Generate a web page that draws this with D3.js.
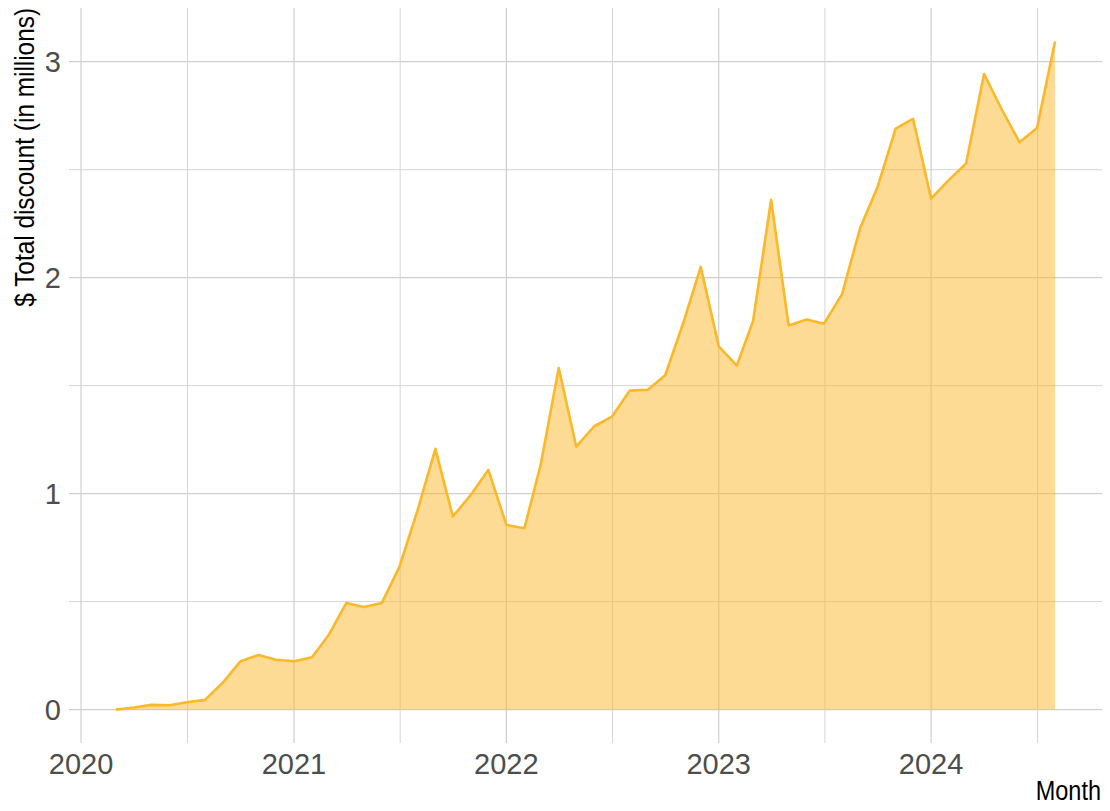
<!DOCTYPE html>
<html>
<head>
<meta charset="utf-8">
<script src="https://cdn.jsdelivr.net/npm/d3@7"></script>
<style>
  body { margin: 0; background: #fff; }
  .tick-label { font-family: "Liberation Sans", Arial, sans-serif; font-size: 29px; fill: #4d4d4d; }
  .axis-title { font-family: "Liberation Sans Narrow", "Liberation Sans", sans-serif; font-size: 28px; fill: #000; }
</style>
</head>
<body>
<div id="chart"></div>
<script>
// monthly totals, Mar 2020 .. Aug 2024
const months = [
  "2020-03","2020-04","2020-05","2020-06","2020-07","2020-08","2020-09","2020-10","2020-11","2020-12",
  "2021-01","2021-02","2021-03","2021-04","2021-05","2021-06","2021-07","2021-08","2021-09","2021-10","2021-11","2021-12",
  "2022-01","2022-02","2022-03","2022-04","2022-05","2022-06","2022-07","2022-08","2022-09","2022-10","2022-11","2022-12",
  "2023-01","2023-02","2023-03","2023-04","2023-05","2023-06","2023-07","2023-08","2023-09","2023-10","2023-11","2023-12",
  "2024-01","2024-02","2024-03","2024-04","2024-05","2024-06","2024-07","2024-08"
];
const discount = [
  0.00, 0.01, 0.022, 0.02, 0.034, 0.045, 0.126, 0.224, 0.253, 0.231,
  0.224, 0.242, 0.343, 0.494, 0.475, 0.494, 0.66, 0.92, 1.207, 0.894, 0.995, 1.11,
  0.855, 0.84, 1.134, 1.582, 1.218, 1.312, 1.355, 1.477, 1.481, 1.548, 1.79, 2.05,
  1.682, 1.593, 1.80, 2.361, 1.779, 1.806, 1.787, 1.924, 2.23, 2.42, 2.69, 2.735,
  2.366, 2.454, 2.528, 2.943, 2.781, 2.627, 2.693, 3.094
];
const yTicks = [0, 1, 2, 3];
const yMinor = [0.5, 1.5, 2.5];
const xTickYears = [2020, 2021, 2022, 2023, 2024];

const width = 1110, height = 811;
const panel = {left: 69, right: 1102, top: 8, bottom: 743};

const parse = d3.timeParse("%Y-%m");
const data = months.map((m, i) => ({date: parse(m), value: discount[i]}));

// ggplot-style 5% expansion
const xExt = d3.extent(data, d => +d.date);
const xPad = (xExt[1] - xExt[0]) * 0.05;
const x = d3.scaleTime()
            .domain([new Date(xExt[0] - xPad), new Date(xExt[1] + xPad)])
            .range([panel.left, panel.right]);

const yExt = d3.extent(data, d => d.value);
const yPad = (yExt[1] - yExt[0]) * 0.05;
const y = d3.scaleLinear()
            .domain([yExt[0] - yPad, yExt[1] + yPad])
            .range([panel.bottom, panel.top]);

const svg = d3.select("#chart")
              .append("svg")
              .attr("width", width)
              .attr("height", height);

const majorX = xTickYears.map(yr => new Date(yr, 0, 1));
const minorX = [];
for (let i = 0; i < majorX.length; i++) {
  const next = new Date(xTickYears[i] + 1, 0, 1);
  minorX.push(new Date((+majorX[i] + +next) / 2));
}

const grid = svg.append("g");
// horizontal grid
grid.selectAll("line.hmin")
    .data(yMinor).enter().append("line")
    .attr("x1", panel.left).attr("x2", panel.right)
    .attr("y1", d => y(d)).attr("y2", d => y(d))
    .attr("stroke", "#d6d6d6").attr("stroke-width", 1);
grid.selectAll("line.hmaj")
    .data(yTicks).enter().append("line")
    .attr("x1", panel.left).attr("x2", panel.right)
    .attr("y1", d => y(d)).attr("y2", d => y(d))
    .attr("stroke", "#cfcfcf").attr("stroke-width", 1.2);
// vertical grid
grid.selectAll("line.vmin")
    .data(minorX.filter(d => x(d) < panel.right)).enter().append("line")
    .attr("x1", d => x(d)).attr("x2", d => x(d))
    .attr("y1", panel.top).attr("y2", panel.bottom)
    .attr("stroke", "#d6d6d6").attr("stroke-width", 1);
grid.selectAll("line.vmaj")
    .data(majorX).enter().append("line")
    .attr("x1", d => x(d)).attr("x2", d => x(d))
    .attr("y1", panel.top).attr("y2", panel.bottom)
    .attr("stroke", "#cfcfcf").attr("stroke-width", 1.2);

const lineColor = "#fbb829";

const area = d3.area()
               .x(d => x(d.date))
               .y0(y(0))
               .y1(d => y(d.value));
svg.append("path")
   .datum(data)
   .attr("d", area)
   .attr("fill", lineColor)
   .attr("fill-opacity", 0.5);

const line = d3.line()
               .x(d => x(d.date))
               .y(d => y(d.value));
svg.append("path")
   .datum(data)
   .attr("d", line)
   .attr("fill", "none")
   .attr("stroke", lineColor)
   .attr("stroke-width", 2.6)
   .attr("stroke-linejoin", "round");

// tick labels
svg.selectAll("text.ylab")
   .data(yTicks).enter().append("text")
   .attr("class", "tick-label")
   .attr("x", 61)
   .attr("y", d => y(d))
   .attr("dy", "0.36em")
   .attr("text-anchor", "end")
   .text(d => d);

svg.selectAll("text.xlab")
   .data(majorX).enter().append("text")
   .attr("class", "tick-label")
   .attr("x", d => x(d))
   .attr("y", 774)
   .attr("text-anchor", "middle")
   .text(d => d3.timeFormat("%Y")(d));

// axis titles, squeezed sideways like the condensed font of the original
svg.append("text")
   .attr("class", "axis-title")
   .attr("transform", "translate(34,8) rotate(-90) scale(0.87,1)")
   .attr("text-anchor", "end")
   .text("$ Total discount (in millions)");

svg.append("text")
   .attr("class", "axis-title")
   .attr("transform", "translate(1101,800) scale(0.84,1)")
   .attr("text-anchor", "end")
   .text("Month");
</script>
</body>
</html>
